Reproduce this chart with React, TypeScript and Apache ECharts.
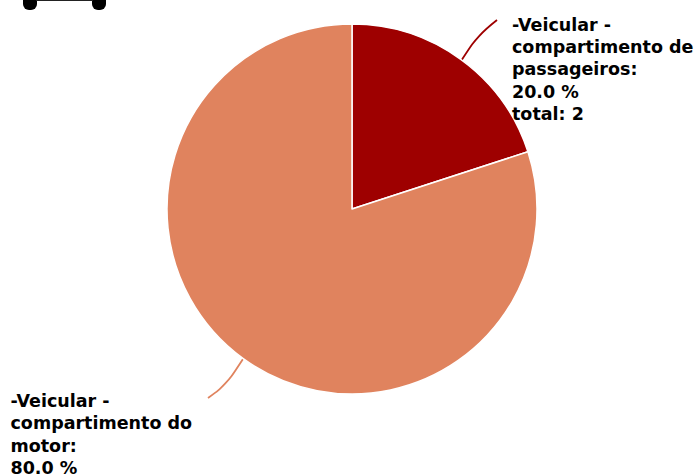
import React, { useEffect, useRef } from "react";
import * as echarts from "echarts";

const categories = ["-Veicular -\ncompartimento de\npassageiros", "-Veicular -\ncompartimento do\nmotor"];
const values = [2, 8];
const totalsShown = ["\ntotal: 2", ""];
const colors = ["#9e0000", "#e0835e"];
const labelAnchors = [
  { x: 512, y: 13.5, line: [[461, 61], [478, 35], [497, 20]] },
  { x: 10.5, y: 390, line: [[243, 359], [226, 385], [208, 398]] },
];

export default function App() {
  const ref = useRef<HTMLDivElement>(null);
  useEffect(() => {
    document.body.style.margin = "0";
    const chart = echarts.init(ref.current!, undefined, { renderer: "svg" });
    chart.setOption({
      animation: false,
      backgroundColor: "#ffffff",
      graphic: [
        { type: "rect", shape: { x: 23, y: -10, width: 14, height: 20, r: 6 }, style: { fill: "#000" } },
        { type: "rect", shape: { x: 92, y: -10, width: 14, height: 20, r: 6 }, style: { fill: "#000" } },
        { type: "rect", shape: { x: 36, y: -1, width: 57, height: 2 }, style: { fill: "#222" } },
      ],
      series: [
        {
          type: "pie",
          center: [352, 209],
          radius: [0, 185],
          startAngle: 90,
          clockwise: true,
          data: categories.map((name, i) => ({
            name,
            value: values[i],
            itemStyle: { color: colors[i] },
            labelLine: { lineStyle: { color: colors[i] } },
          })),
          itemStyle: { borderColor: "#ffffff", borderWidth: 1.5 },
          label: {
            show: true,
            color: "#000",
            fontFamily: "DejaVu Sans",
            fontWeight: "bold",
            fontSize: 17.5,
            lineHeight: 22.3,
            align: "left",
            overflow: "none",
            formatter: (p: any) => `${p.name}:\n${p.percent.toFixed(1)} %${totalsShown[p.dataIndex]}`,
          },
          labelLine: { show: true, smooth: 0.4, lineStyle: { width: 1.8 } },
          labelLayout: (p: any) => {
            const a = labelAnchors[p.dataIndex];
            return { x: a.x, y: a.y, align: "left", verticalAlign: "top", labelLinePoints: a.line };
          },
          emphasis: { disabled: true },
        },
      ],
    });
    return () => chart.dispose();
  }, []);
  return <div ref={ref} style={{ width: 695, height: 476, overflow: "hidden" }} />;
}
